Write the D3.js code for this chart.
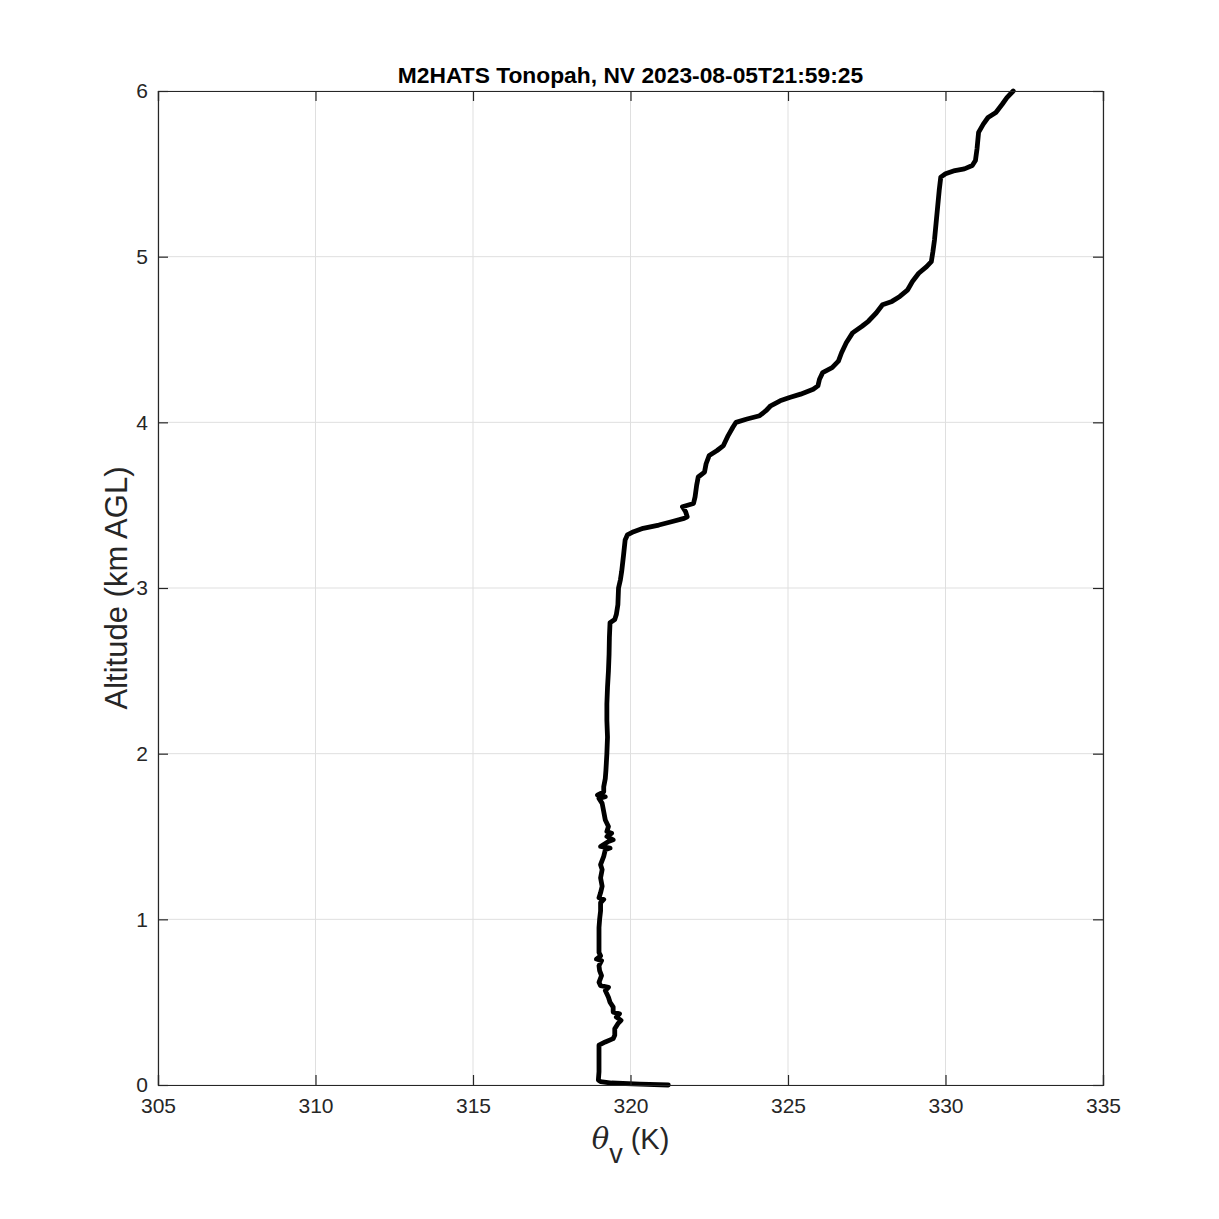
<!DOCTYPE html>
<html><head><meta charset="utf-8">
<script src="https://cdn.jsdelivr.net/npm/d3@7"></script>
<style>body{margin:0;background:#fff}svg{display:block}text{font-family:"Liberation Sans",Arial,Helvetica,sans-serif}</style>
</head><body>
<script>
const titleText = "M2HATS Tonopah, NV 2023-08-05T21:59:25";
const xTicks = [305,310,315,320,325,330,335];
const yTicks = [0,1,2,3,4,5,6];
const altitude = [0,0.005,0.012,0.02,0.03,0.08,0.15,0.2,0.24,0.26,0.28,0.3,0.34,0.37,0.39,0.41,0.43,0.44,0.47,0.5,0.53,0.57,0.59,0.6,0.62,0.66,0.69,0.72,0.75,0.76,0.78,0.8,0.85,0.9,0.95,1.0,1.05,1.1,1.12,1.13,1.16,1.2,1.25,1.3,1.33,1.38,1.42,1.43,1.44,1.47,1.48,1.5,1.52,1.53,1.56,1.6,1.65,1.7,1.73,1.74,1.75,1.77,1.8,1.85,1.9,2.0,2.1,2.2,2.3,2.4,2.5,2.6,2.7,2.79,2.81,2.84,2.9,3.0,3.05,3.1,3.2,3.29,3.32,3.34,3.36,3.38,3.4,3.42,3.43,3.46,3.49,3.51,3.55,3.62,3.67,3.7,3.75,3.8,3.83,3.86,3.92,3.97,4.0,4.02,4.04,4.07,4.1,4.13,4.15,4.17,4.2,4.22,4.26,4.3,4.33,4.37,4.42,4.48,4.54,4.58,4.61,4.66,4.71,4.73,4.76,4.8,4.85,4.9,4.94,4.97,5.03,5.1,5.2,5.3,5.4,5.48,5.5,5.52,5.53,5.55,5.58,5.65,5.75,5.8,5.84,5.87,5.92,5.96,6.0];
const thetaV = [321.2,320.3,319.4,319.05,318.98,319.0,319.0,319.0,319.0,319.2,319.45,319.5,319.5,319.6,319.7,319.55,319.65,319.45,319.45,319.35,319.3,319.2,319.3,319.05,319.0,319.08,319.02,319.0,319.08,318.92,319.05,319.0,319.0,319.0,319.0,319.02,319.05,319.05,319.15,319.0,319.05,319.1,319.05,319.1,319.05,319.15,319.2,319.35,319.05,319.3,319.45,319.25,319.4,319.25,319.3,319.2,319.15,319.1,319.0,319.2,318.95,319.15,319.15,319.2,319.22,319.25,319.27,319.25,319.25,319.27,319.3,319.32,319.33,319.35,319.5,319.55,319.6,319.62,319.68,319.72,319.78,319.83,319.9,320.1,320.4,320.9,321.3,321.7,321.8,321.75,321.65,322.0,322.05,322.1,322.15,322.35,322.4,322.5,322.75,322.95,323.1,323.25,323.35,323.7,324.1,324.3,324.45,324.75,325.05,325.4,325.8,325.95,326.0,326.1,326.4,326.6,326.7,326.85,327.05,327.35,327.55,327.8,328.0,328.3,328.55,328.8,328.95,329.15,329.4,329.55,329.6,329.65,329.7,329.75,329.8,329.85,330.0,330.3,330.6,330.85,330.95,331.0,331.05,331.2,331.35,331.6,331.8,331.95,332.15];

const W = 1219, H = 1219;
const L = 158, R = 1103, T = 91, B = 1085;
const svg = d3.select("body").append("svg").attr("width", W).attr("height", H);
const x = d3.scaleLinear().domain([305,335]).range([L,R]);
const y = d3.scaleLinear().domain([0,6]).range([B,T]);
const ax = "#262626";

// grid
const g = svg.append("g");
g.selectAll(".gx").data(xTicks).join("line").attr("x1",d=>x(d)).attr("x2",d=>x(d)).attr("y1",T).attr("y2",B).attr("stroke","#dfdfdf").attr("stroke-width",1);
g.selectAll(".gy").data(yTicks).join("line").attr("y1",d=>y(d)).attr("y2",d=>y(d)).attr("x1",L).attr("x2",R).attr("stroke","#dfdfdf").attr("stroke-width",1);

// data line
const line = d3.line().x((d,i)=>x(thetaV[i])).y(d=>y(d));
svg.append("path").datum(altitude).attr("d", line).attr("fill","none").attr("stroke","#000").attr("stroke-width",4.8).attr("stroke-linejoin","round").attr("stroke-linecap","round");

// axes (inward ticks)
const tl = 10;
const xb = d3.axisBottom(x).tickValues(xTicks).tickSize(-tl).tickPadding(13).tickFormat(d3.format("d"));
const xt = d3.axisTop(x).tickValues(xTicks).tickSize(-tl).tickFormat("");
const yl = d3.axisLeft(y).tickValues(yTicks).tickSize(-tl).tickPadding(10).tickFormat(d3.format("d"));
const yr = d3.axisRight(y).tickValues(yTicks).tickSize(-tl).tickFormat("");
function style(sel){sel.select(".domain").attr("stroke",ax).attr("stroke-width",1.2);sel.selectAll(".tick line").attr("stroke",ax).attr("stroke-width",1.2);sel.selectAll("text").attr("fill",ax).style("font-size","21px").style("font-family","'Liberation Sans',Arial,sans-serif");}
svg.append("g").attr("transform",`translate(0,${B})`).call(xb).call(style);
svg.append("g").attr("transform",`translate(0,${T})`).call(xt).call(style);
svg.append("g").attr("transform",`translate(${L},0)`).call(yl).call(style);
svg.append("g").attr("transform",`translate(${R},0)`).call(yr).call(style);

// title
svg.append("text").attr("x",(L+R)/2).attr("y",83).attr("text-anchor","middle").attr("font-weight","bold").attr("font-size","22.8px").attr("fill","#000").text(titleText);

// x label
const xl = svg.append("text").attr("x",(L+R)/2).attr("y",1149).attr("text-anchor","middle").attr("font-size","29px").attr("fill",ax);
xl.append("tspan").attr("font-family","'DejaVu Serif','Liberation Serif',serif").attr("font-style","italic").text("θ");
xl.append("tspan").attr("dy",14).attr("font-size","27px").text("v");
xl.append("tspan").attr("dy",-14).text(" (K)");

// y label
svg.append("text").attr("transform",`translate(127,${(T+B)/2}) rotate(-90)`).attr("text-anchor","middle").attr("font-size","31px").attr("fill",ax).text("Altitude (km AGL)");
</script>
</body></html>
